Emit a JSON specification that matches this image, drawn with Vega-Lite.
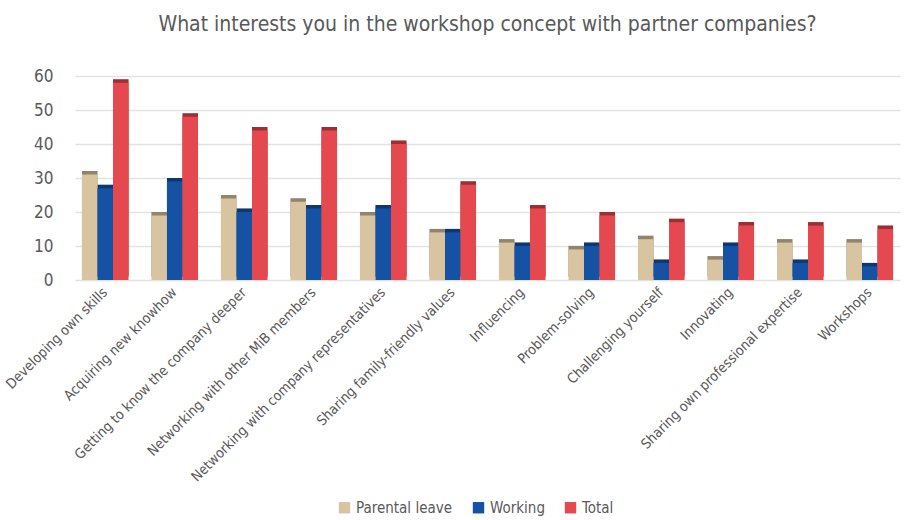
{
  "$schema": "https://vega.github.io/schema/vega-lite/v6.json",
  "autosize": "none",
  "width": 825,
  "height": 204,
  "padding": {"left": 75, "top": 76, "right": 8, "bottom": 240},
  "background": "white",
  "title": {
    "text": "What interests you in the workshop concept with partner companies?",
    "font": "DejaVu Sans Condensed, Liberation Sans Narrow, sans-serif",
    "fontSize": 21,
    "fontWeight": "normal",
    "color": "#595959",
    "anchor": "middle",
    "frame": "group",
    "offset": 32
  },
  "config": {
    "view": {"stroke": null},
    "font": "DejaVu Sans Condensed, Liberation Sans Narrow, sans-serif"
  },
  "data": {
    "values": [
      {"cat": "Developing own skills", "series": "Parental leave", "value": 31},
      {"cat": "Developing own skills", "series": "Working", "value": 27},
      {"cat": "Developing own skills", "series": "Total", "value": 58},
      {"cat": "Acquiring new knowhow", "series": "Parental leave", "value": 19},
      {"cat": "Acquiring new knowhow", "series": "Working", "value": 29},
      {"cat": "Acquiring new knowhow", "series": "Total", "value": 48},
      {"cat": "Getting to know the company deeper", "series": "Parental leave", "value": 24},
      {"cat": "Getting to know the company deeper", "series": "Working", "value": 20},
      {"cat": "Getting to know the company deeper", "series": "Total", "value": 44},
      {"cat": "Networking with other MiB members", "series": "Parental leave", "value": 23},
      {"cat": "Networking with other MiB members", "series": "Working", "value": 21},
      {"cat": "Networking with other MiB members", "series": "Total", "value": 44},
      {"cat": "Networking with company representatives", "series": "Parental leave", "value": 19},
      {"cat": "Networking with company representatives", "series": "Working", "value": 21},
      {"cat": "Networking with company representatives", "series": "Total", "value": 40},
      {"cat": "Sharing family-friendly values", "series": "Parental leave", "value": 14},
      {"cat": "Sharing family-friendly values", "series": "Working", "value": 14},
      {"cat": "Sharing family-friendly values", "series": "Total", "value": 28},
      {"cat": "Influencing", "series": "Parental leave", "value": 11},
      {"cat": "Influencing", "series": "Working", "value": 10},
      {"cat": "Influencing", "series": "Total", "value": 21},
      {"cat": "Problem-solving", "series": "Parental leave", "value": 9},
      {"cat": "Problem-solving", "series": "Working", "value": 10},
      {"cat": "Problem-solving", "series": "Total", "value": 19},
      {"cat": "Challenging yourself", "series": "Parental leave", "value": 12},
      {"cat": "Challenging yourself", "series": "Working", "value": 5},
      {"cat": "Challenging yourself", "series": "Total", "value": 17},
      {"cat": "Innovating", "series": "Parental leave", "value": 6},
      {"cat": "Innovating", "series": "Working", "value": 10},
      {"cat": "Innovating", "series": "Total", "value": 16},
      {"cat": "Sharing own professional expertise", "series": "Parental leave", "value": 11},
      {"cat": "Sharing own professional expertise", "series": "Working", "value": 5},
      {"cat": "Sharing own professional expertise", "series": "Total", "value": 16},
      {"cat": "Workshops", "series": "Parental leave", "value": 11},
      {"cat": "Workshops", "series": "Working", "value": 4},
      {"cat": "Workshops", "series": "Total", "value": 15}
    ]
  },
  "encoding": {
    "x": {
      "field": "cat",
      "type": "nominal",
      "sort": null,
      "scale": {"paddingInner": 0.33, "paddingOuter": 0.1},
      "axis": {
        "title": null,
        "labelAngle": -45,
        "labelAlign": "right",
        "labelBaseline": "middle",
        "labelFontSize": 14,
        "labelColor": "#595959",
        "labelPadding": 10,
        "ticks": false,
        "domain": false,
        "labelLimit": 400
      }
    },
    "xOffset": {"field": "series", "type": "nominal", "sort": ["Parental leave", "Working", "Total"]},
    "y": {
      "field": "value",
      "type": "quantitative",
      "scale": {"domain": [0, 60]},
      "axis": {
        "title": null,
        "values": [0, 10, 20, 30, 40, 50, 60],
        "labelFontSize": 17,
        "labelColor": "#595959",
        "labelPadding": 22,
        "ticks": false,
        "domain": false,
        "gridColor": "#E2E2E2",
        "gridWidth": 1.5
      }
    },
    "color": {
      "field": "series",
      "type": "nominal",
      "sort": ["Parental leave", "Working", "Total"],
      "scale": {"domain": ["Parental leave", "Working", "Total"], "range": ["#D9C4A2", "#1652A3", "#E5484E"]},
      "legend": {
        "title": null,
        "orient": "none",
        "direction": "horizontal",
        "legendX": 262,
        "legendY": 424,
        "symbolType": "square",
        "symbolSize": 130,
        "symbolOpacity": 1,
        "labelFontSize": 15,
        "labelColor": "#595959",
        "columnPadding": 18,
        "symbolStrokeWidth": 0
      }
    }
  },
  "layer": [
    {"mark": {"type": "bar", "xOffset": 3.5, "yOffset": -3.5}},
    {"mark": {"type": "bar", "xOffset": 3.5, "yOffset": -3.5, "fill": "black", "opacity": 0.33}},
    {"mark": {"type": "bar"}}
  ]
}
